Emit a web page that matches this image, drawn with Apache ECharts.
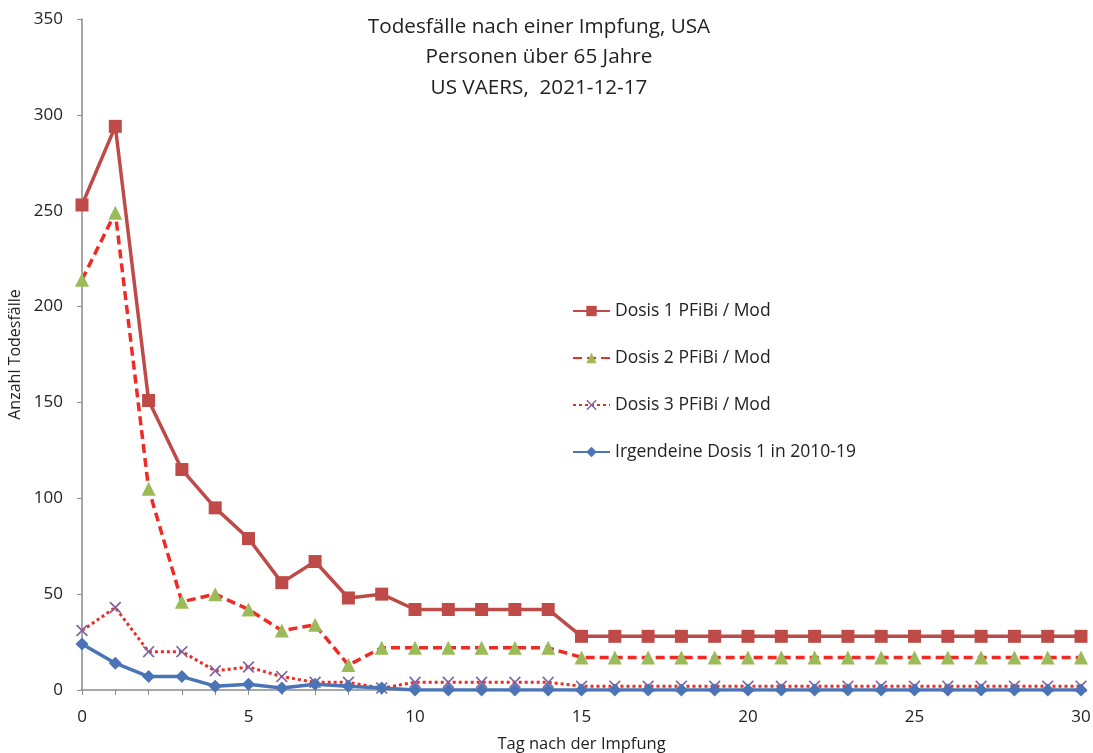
<!DOCTYPE html>
<html>
<head>
<meta charset="utf-8">
<script src="https://cdn.jsdelivr.net/npm/echarts@6/dist/echarts.min.js"></script>
<style>html,body{margin:0;padding:0;background:#fff}#c{width:1093px;height:753px}</style>
</head>
<body>
<div id="c"></div>
<script>
const days = Array.from({length: 31}, (_, i) => String(i));
const dosis1 = [253,294,151,115,95,79,56,67,48,50,42,42,42,42,42,28,28,28,28,28,28,28,28,28,28,28,28,28,28,28,28];
const dosis2 = [214,249,105,46,50,42,31,34,13,22,22,22,22,22,22,17,17,17,17,17,17,17,17,17,17,17,17,17,17,17,17];
const dosis3 = [31,43,20,20,10,12,7,4,4,1,4,4,4,4,4,2,2,2,2,2,2,2,2,2,2,2,2,2,2,2,2];
const any2010 = [24,14,7,7,2,3,1,3,2,1,0,0,0,0,0,0,0,0,0,0,0,0,0,0,0,0,0,0,0,0,0];
const seriesNames = ['Dosis 1 PFiBi / Mod','Dosis 2 PFiBi / Mod','Dosis 3 PFiBi / Mod','Irgendeine Dosis 1 in 2010-19'];
const titleText = 'Todesfälle nach einer Impfung, USA\nPersonen über 65 Jahre\nUS VAERS,  2021-12-17';
const xAxisName = 'Tag nach der Impfung';
const yAxisName = 'Anzahl Todesfälle';

const FONT = '"Open Sans", Lato, sans-serif';
const xSym = 'path://M0,1L1,0L5,4L9,0L10,1L6,5L10,9L9,10L5,6L1,10L0,9L4,5Z';

const chart = echarts.init(document.getElementById('c'), null, {renderer: 'canvas'});
chart.setOption({
  animation: false,
  backgroundColor: '#fff',
  textStyle: {fontFamily: FONT},
  title: {
    text: titleText,
    left: 539, top: 11.5, padding: 0, textAlign: 'center',
    textStyle: {fontFamily: FONT, fontSize: 20.7, fontWeight: 'normal', color: '#222', lineHeight: 30.5}
  },
  legend: {
    orient: 'vertical', left: 572, top: 301, padding: 0,
    itemWidth: 37, itemHeight: 13, itemGap: 27,
    textStyle: {fontFamily: FONT, fontSize: 17.5, color: '#222', lineHeight: 20},
    data: seriesNames
  },
  grid: {left: 82, right: 12, top: 19, bottom: 63, containLabel: false, outerBoundsMode: 'none'},
  xAxis: {
    type: 'category', data: days, boundaryGap: false,
    name: xAxisName, nameLocation: 'middle', nameGap: 46,
    nameTextStyle: {fontFamily: FONT, fontSize: 16.5, color: '#222'},
    axisLine: {lineStyle: {color: '#8a8a8a', width: 1.5}},
    axisTick: {interval: 0, length: 5, lineStyle: {color: '#8a8a8a'}},
    axisLabel: {interval: 4, fontSize: 17, color: '#222', margin: 18.5, fontFamily: FONT},
    splitLine: {show: false}
  },
  yAxis: {
    type: 'value', min: 0, max: 350, interval: 50,
    name: yAxisName, nameLocation: 'middle', nameGap: 55, nameRotate: 90,
    nameTextStyle: {fontFamily: FONT, fontSize: 16, color: '#222'},
    axisLine: {show: true, lineStyle: {color: '#8a8a8a', width: 1.5}},
    axisTick: {show: true, length: 5, lineStyle: {color: '#8a8a8a'}},
    axisLabel: {fontSize: 17, color: '#222', margin: 19, fontFamily: FONT},
    splitLine: {show: false}
  },
  series: [
    {
      name: seriesNames[0], type: 'line', data: dosis1, z: 4,
      symbol: 'rect', symbolSize: 13, showAllSymbol: true,
      lineStyle: {color: '#BE4B48', width: 3.5},
      itemStyle: {color: '#BE4B48'}
    },
    {
      name: seriesNames[1], type: 'line', data: dosis2, z: 3,
      symbol: 'triangle', symbolSize: 14, showAllSymbol: true,
      lineStyle: {color: '#EE2B24', width: 3.5, type: [9, 5]},
      itemStyle: {color: '#9BBB59'}
    },
    {
      name: seriesNames[2], type: 'line', data: dosis3, z: 2,
      symbol: xSym, symbolSize: 12, showAllSymbol: true,
      lineStyle: {color: '#EE2B24', width: 3, type: [3, 3]},
      itemStyle: {color: '#8064A2'}
    },
    {
      name: seriesNames[3], type: 'line', data: any2010, z: 5,
      symbol: 'diamond', symbolSize: 13, showAllSymbol: true,
      lineStyle: {color: '#4A74B5', width: 3.5},
      itemStyle: {color: '#4A74B5'}
    }
  ]
});
</script>
</body>
</html>
